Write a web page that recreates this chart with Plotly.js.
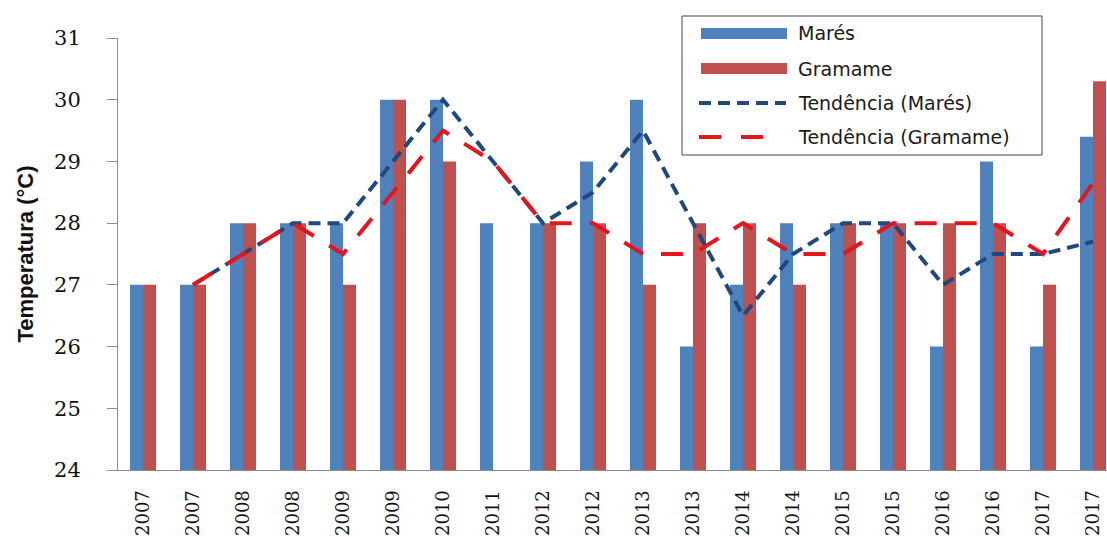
<!DOCTYPE html>
<html>
<head>
<meta charset="utf-8">
<script src="https://cdn.plot.ly/plotly-3.0.1.min.js"></script>
<style>
html,body{margin:0;padding:0;background:#fff;}
#chart{width:1107px;height:537px;}
</style>
</head>
<body>
<div id="chart"></div>
<script>
// ---- data ----
const years = ['2007','2007','2008','2008','2009','2009','2010','2011','2012','2012',
               '2013','2013','2014','2014','2015','2015','2016','2016','2017','2017'];
const mares   = [27,27,28,28,28,30,30,28,28,29,30,26,27,28,28,28,26,29,26,29.4];
const gramame = [27,27,28,28,27,30,29,null,28,28,27,28,28,27,28,28,28,28,27,30.3];
const trendMares   = [null,27,27.5,28,28,29,30,29,28,28.5,29.5,28,26.5,27.5,28,28,27,27.5,27.5,27.7];
const trendGramame = [null,27,27.5,28,27.5,28.5,29.5,29,28,28,27.5,27.5,28,27.5,27.5,28,28,28,27.5,28.65];
const seriesNames = ['Marés','Gramame','Tendência (Marés)','Tendência (Gramame)'];
const yTicks = [24,25,26,27,28,29,30,31];

// ---- styling ----
const BLUE = '#4F81BD', RED = '#C0504D', NAVY = '#1F497D', BRIGHTRED = '#E8141B';
const idx = years.map((_, i) => i);

const traces = [
  {type:'bar', name:seriesNames[0], x:idx, y:mares, marker:{color:BLUE}, showlegend:false},
  {type:'bar', name:seriesNames[1], x:idx, y:gramame, marker:{color:RED}, showlegend:false},
  {type:'scatter', mode:'lines', name:seriesNames[2], x:idx, y:trendMares,
   line:{color:NAVY, width:4, dash:'12px,7px'}, connectgaps:false, showlegend:false},
  {type:'scatter', mode:'lines', name:seriesNames[3], x:idx, y:trendGramame,
   line:{color:BRIGHTRED, width:4, dash:'22px,18px'}, connectgaps:false, showlegend:false}
];

// plot area geometry in pixels (for the hand-drawn legend)
const L = 118, T = 38, W = 989, H = 432;
const px = v => (v - L) / W;
const py = v => (T + H - v) / H;

const shapes = [
  {type:'rect', xref:'paper', yref:'paper', x0:px(682), x1:px(1042), y0:py(155), y1:py(16),
   line:{color:'#444', width:1}, fillcolor:'#fff', layer:'above'},
  {type:'rect', xref:'paper', yref:'paper', x0:px(701), x1:px(787), y0:py(39), y1:py(28),
   line:{width:0}, fillcolor:BLUE, layer:'above'},
  {type:'rect', xref:'paper', yref:'paper', x0:px(701), x1:px(787), y0:py(74), y1:py(63),
   line:{width:0}, fillcolor:RED, layer:'above'},
  {type:'line', xref:'paper', yref:'paper', x0:px(699), x1:px(786), y0:py(103), y1:py(103),
   line:{color:NAVY, width:4, dash:'12px,7px'}, layer:'above'},
  {type:'line', xref:'paper', yref:'paper', x0:px(699), x1:px(763), y0:py(137), y1:py(137),
   line:{color:BRIGHTRED, width:4, dash:'22px,20px'}, layer:'above'}
];
const legendRowsY = [33.5, 68.5, 103, 137];
const annotations = seriesNames.map((n, i) => ({
  text:n, xref:'paper', yref:'paper', x:px(796), y:py(legendRowsY[i]),
  xanchor:'left', yanchor:'middle', showarrow:false,
  font:{family:'DejaVu Sans, Arial, sans-serif', size:19, color:'#1a1a1a'}
}));

const layout = {
  width:1107, height:537,
  margin:{l:L, r:0, t:T, b:537 - T - H, pad:0},
  paper_bgcolor:'#fff', plot_bgcolor:'#fff',
  barmode:'group', bargap:0.48, bargroupgap:0,
  showlegend:false,
  xaxis:{
    range:[-0.5, -0.5 + W / 50], tickmode:'array', tickvals:idx, ticktext:years,
    tickangle:-90, ticks:'', showgrid:false, zeroline:false,
    showline:true, linecolor:'#8c8c8c', linewidth:1,
    tickfont:{family:'DejaVu Serif, Liberation Serif, serif', size:18, color:'#111'},
    ticklabelstandoff:12, fixedrange:true
  },
  yaxis:{
    range:[24,31], tickmode:'array', tickvals:yTicks, ticks:'outside', ticklen:10,
    tickcolor:'#8c8c8c', showgrid:false, zeroline:false,
    showline:true, linecolor:'#8c8c8c', linewidth:1,
    tickfont:{family:'DejaVu Serif, Liberation Serif, serif', size:21, color:'#111'},
    ticklabelstandoff:22,
    title:{text:'Temperatura (°C)', standoff:14,
           font:{family:'Liberation Sans, Arial, sans-serif', size:22, color:'#111', weight:'bold'}},
    fixedrange:true
  },
  shapes:shapes,
  annotations:annotations
};

Plotly.newPlot('chart', traces, layout, {displayModeBar:false, staticPlot:true});
</script>
</body>
</html>
